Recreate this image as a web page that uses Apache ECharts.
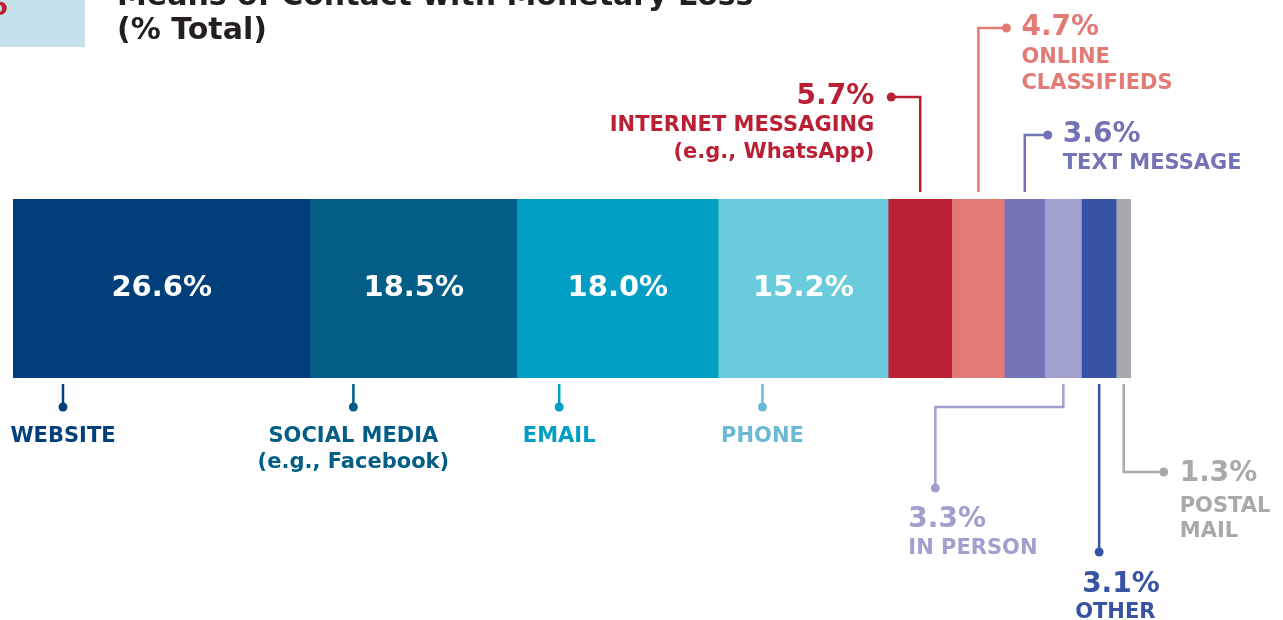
<!DOCTYPE html>
<html>
<head>
<meta charset="utf-8">
<script src="https://cdn.jsdelivr.net/npm/echarts@6/dist/echarts.min.js"></script>
<style>
html,body{margin:0;padding:0;background:#fff;}
#c{width:1283px;height:620px;}
</style>
</head>
<body>
<div id="c"></div>
<script>
// ---- data ----
const categories = ['Website', 'Social media', 'Email', 'Phone', 'Internet messaging', 'Online classifieds', 'Text message', 'In person', 'Other', 'Postal mail'];
const values = [26.6, 18.5, 18.0, 15.2, 5.7, 4.7, 3.6, 3.3, 3.1, 1.3];
const labelLines = [
  ['WEBSITE'],
  ['SOCIAL MEDIA', '(e.g., Facebook)'],
  ['EMAIL'],
  ['PHONE'],
  ['INTERNET MESSAGING', '(e.g., WhatsApp)'],
  ['ONLINE', 'CLASSIFIEDS'],
  ['TEXT MESSAGE'],
  ['IN PERSON'],
  ['OTHER'],
  ['POSTAL', 'MAIL']
];
const titleLines = ['Means of Contact with Monetary Loss', '(% Total)'];

// ---- style / layout ----
const barColors = ['#003F7A', '#025D87', '#009FC3', '#6ACBDC', '#BA1F33', '#E27B76', '#7373B5', '#A0A0CF', '#3953A4', '#A8A9AD'];
const textColors = ['#003F7A', '#025D87', '#009FC3', '#6CB9D6', '#BA1F33', '#E27B76', '#7373B5', '#A0A0CF', '#3953A4', '#A8A9AD'];
const FONT = '"DejaVu Sans", sans-serif';
const GRID = {left: 13, right: 152, top: 199, height: 179};

const chart = echarts.init(document.getElementById('c'), null, {renderer: 'canvas'});

const series = values.map((v, i) => ({
  type: 'bar',
  name: categories[i],
  stack: 'total',
  data: [v],
  barWidth: '100%',
  itemStyle: {color: barColors[i]},
  label: {
    show: i < 4,
    position: 'inside',
    formatter: p => p.value.toFixed(1) + '%',
    color: '#fff',
    fontFamily: FONT,
    fontWeight: 'bold',
    fontSize: 29
  },
  emphasis: {disabled: true},
  silent: true
}));

chart.setOption({
  animation: false,
  grid: GRID,
  xAxis: {type: 'value', min: 0, max: 100, show: false},
  yAxis: {type: 'category', data: ['Total'], show: false},
  series: series
});

// ---- annotations, positioned from the axis scale ----
const barTop = GRID.top, barBot = GRID.top + GRID.height;
const px = v => chart.convertToPixel({xAxisIndex: 0}, v);
let cum = 0;
const starts = [], centers = [];
values.forEach(v => { starts.push(px(cum)); centers.push(px(cum + v / 2)); cum += v; });

const g = [];
// thin seam covers between adjacent segments (same colour as the left segment)
for (let i = 1; i < values.length; i++) {
  g.push({type: 'rect', shape: {x: starts[i] - 1, y: barTop, width: 1.5, height: GRID.height}, style: {fill: barColors[i - 1]}, silent: true, z: 1});
}
const LW = 2.5, R = 4.5;
function line(pts, c) { g.push({type: 'polyline', shape: {points: pts}, style: {stroke: c, lineWidth: LW, fill: null}, silent: true}); }
function dot(x, y, c) { g.push({type: 'circle', shape: {cx: x, cy: y, r: R}, style: {fill: c}, silent: true}); }
function txt(x, y, s, c, size, align) {
  g.push({type: 'text', x: x, y: y, style: {text: s, fill: c, font: 'bold ' + size + 'px ' + FONT, align: align, verticalAlign: 'middle'}, silent: true});
}
const PCT = 28, NAME = 21;

// bottom straight leaders (first four)
const straightOffsets = [50, 43, 42, 44];
for (let i = 0; i < 4; i++) {
  const x = starts[i] + straightOffsets[i], c = textColors[i];
  line([[x, barBot + 6], [x, barBot + 26]], c);
  dot(x, barBot + 29, c);
  labelLines[i].forEach((s, k) => txt(x, barBot + 59 + k * 26, s, c, NAME, 'center'));
}
// internet messaging
(function(){ const i = 4, x = centers[i], c = textColors[i], y = barTop - 102, dx = x - 29;
  line([[x, barTop - 7], [x, y], [dx, y]], c); dot(dx, y, c);
  txt(dx - 17, y, values[i].toFixed(1) + '%', c, PCT, 'right');
  labelLines[i].forEach((s, k) => txt(dx - 17, y + 29 + k * 27, s, c, NAME, 'right'));
})();
// online classifieds
(function(){ const i = 5, x = centers[i], c = textColors[i], y = barTop - 171, dx = x + 28;
  line([[x, barTop - 7], [x, y], [dx, y]], c); dot(dx, y, c);
  txt(dx + 15, y, values[i].toFixed(1) + '%', c, PCT, 'left');
  labelLines[i].forEach((s, k) => txt(dx + 15, y + 30 + k * 26, s, c, NAME, 'left'));
})();
// text message
(function(){ const i = 6, x = centers[i], c = textColors[i], y = barTop - 64, dx = x + 23;
  line([[x, barTop - 7], [x, y], [dx, y]], c); dot(dx, y, c);
  txt(dx + 15, y, values[i].toFixed(1) + '%', c, PCT, 'left');
  labelLines[i].forEach((s, k) => txt(dx + 15, y + 29 + k * 26, s, c, NAME, 'left'));
})();
// in person
(function(){ const i = 7, x = centers[i], c = textColors[i], y = barBot + 29, lx = x - 128;
  line([[x, barBot + 6], [x, y], [lx, y], [lx, barBot + 106]], c); dot(lx, barBot + 110, c);
  txt(lx - 27, barBot + 142, values[i].toFixed(1) + '%', c, PCT, 'left');
  labelLines[i].forEach((s, k) => txt(lx - 27, barBot + 171 + k * 26, s, c, NAME, 'left'));
})();
// other
(function(){ const i = 8, x = centers[i], c = textColors[i];
  line([[x, barBot + 6], [x, barBot + 170]], c); dot(x, barBot + 174, c);
  txt(x - 17, barBot + 207, values[i].toFixed(1) + '%', c, PCT, 'left');
  labelLines[i].forEach((s, k) => txt(x - 24, barBot + 235 + k * 26, s, c, NAME, 'left'));
})();
// postal mail
(function(){ const i = 9, x = centers[i], c = textColors[i], y = barBot + 94, dx = x + 40;
  line([[x, barBot + 6], [x, y], [dx, y]], c); dot(dx, y, c);
  txt(dx + 16, y + 2, values[i].toFixed(1) + '%', c, PCT, 'left');
  labelLines[i].forEach((s, k) => txt(dx + 16, y + 35 + k * 25, s, c, NAME, 'left'));
})();

// header: figure tag box and title
g.push({type: 'rect', shape: {x: 0, y: 0, width: 85, height: 47}, style: {fill: '#C5E1EC'}, silent: true});
g.push({type: 'text', x: 8, y: 8, style: {text: '6', fill: '#BA1F33', font: 'bold 26px ' + FONT, align: 'right', verticalAlign: 'middle'}, silent: true});
titleLines.forEach((s, k) => g.push({type: 'text', x: 117, y: -3 + k * 34, style: {text: s, fill: '#231F20', font: 'bold 30px ' + FONT, align: 'left', verticalAlign: 'middle'}, silent: true}));

chart.setOption({graphic: g});
</script>
</body>
</html>
